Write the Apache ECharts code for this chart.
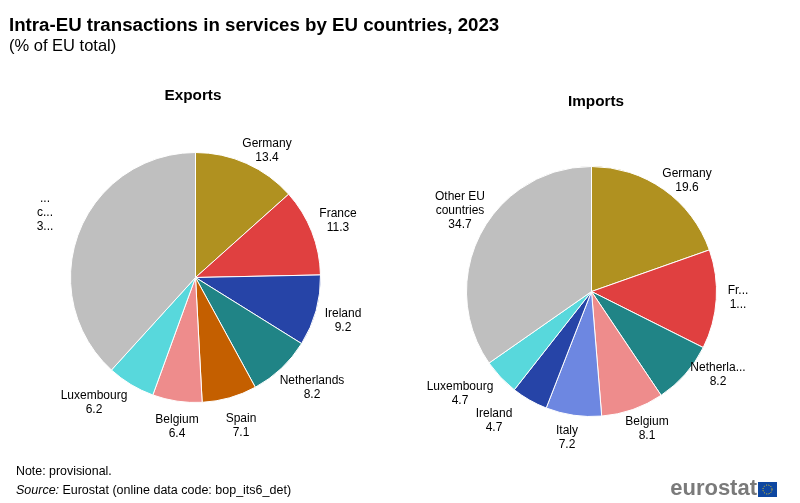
<!DOCTYPE html>
<html>
<head>
<meta charset="utf-8">
<style>html,body{margin:0;padding:0;background:#fff}#main{width:800px;height:503px}</style>
<script src="https://cdn.jsdelivr.net/npm/echarts@6/dist/echarts.min.js"></script>
</head>
<body>
<div id="main"></div>
<script>
var exportNames = ['Germany', 'France', 'Ireland', 'Netherlands', 'Spain', 'Belgium', 'Luxembourg', 'Other EU\ncountries']
var exportValues = [13.4, 11.3, 9.2, 8.2, 7.1, 6.4, 6.2, 38.3]
var exportColors = ['#b09120', '#e04040', '#2644a7', '#208486', '#c45f00', '#ee8c8c', '#58d8dc', '#bfbfbf']
var importNames = ['Germany', 'France', 'Netherlands', 'Belgium', 'Italy', 'Ireland', 'Luxembourg', 'Other EU\ncountries']
var importValues = [19.6, 12.8, 8.2, 8.1, 7.2, 4.7, 4.7, 34.7]
var importColors = ['#b09120', '#e04040', '#208486', '#ee8c8c', '#6d87e1', '#2644a7', '#58d8dc', '#bfbfbf']

// label centres, placed by hand like in the original
var exportLabelPos = [[267, 151], [338, 221], [343, 321], [312, 388], [241, 426], [177, 427], [94, 403], [45, 213]]
var importLabelPos = [[687, 181], [738, 298], [718, 375], [647, 429], [567, 438], [494, 421], [460, 394], [460, 211]]

var font = 'Arial, "Liberation Sans", sans-serif'
var myChart = echarts.init(document.getElementById('main'))

function makeData (names, values, colors) {
  return names.map(function (n, i) {
    return { name: n, value: values[i], itemStyle: { color: colors[i] } }
  })
}

function makePie (data, labelPos, cx, cy, r) {
  return {
    type: 'pie',
    center: [cx, cy],
    radius: [0, r],
    startAngle: 90,
    clockwise: true,
    animation: false,
    data: data,
    itemStyle: { borderColor: '#fff', borderWidth: 1 },
    label: {
      show: true,
      position: 'outside',
      formatter: function (p) { return p.name + '\n' + p.value.toFixed(1) },
      color: '#000',
      fontFamily: font,
      fontSize: 12,
      lineHeight: 14,
      align: 'center'
    },
    labelLine: { show: false },
    labelLayout: function (p) {
      return { x: labelPos[p.dataIndex][0], y: labelPos[p.dataIndex][1], align: 'center', verticalAlign: 'middle' }
    },
    emphasis: { disabled: true }
  }
}

var option = {
  backgroundColor: '#fff',
  title: [
    { text: 'Intra-EU transactions in services by EU countries, 2023', left: 4, top: 11, textStyle: { fontFamily: font, fontSize: 18.7, fontWeight: 'bold', color: '#000' } },
    { text: '(% of EU total)', left: 4, top: 33, textStyle: { fontFamily: font, fontSize: 16.5, fontWeight: 'normal', color: '#000' } },
    { text: 'Exports', left: 188, top: 83, textAlign: 'center', textStyle: { fontFamily: font, fontSize: 15.3, fontWeight: 'bold', color: '#000' } },
    { text: 'Imports', left: 591, top: 89, textAlign: 'center', textStyle: { fontFamily: font, fontSize: 15.3, fontWeight: 'bold', color: '#000' } }
  ],
  graphic: [
    { type: 'text', x: 16, y: 466, style: { text: 'Note: provisional.', fontFamily: font, fontSize: 12.4, fill: '#000' } },
    { type: 'text', x: 16, y: 484, style: { rich: { i: { fontStyle: 'italic', fontFamily: font, fontSize: 12.5, fill: '#000' }, n: { fontFamily: font, fontSize: 12.5, fill: '#000' } }, text: '{i|Source:} {n|Eurostat (online data code: bop_its6_det)}' } },
    { type: 'text', x: 757, y: 478, style: { text: 'eurostat', align: 'right', fontFamily: font, fontSize: 22, fontWeight: 'bold', fill: '#7a7a7a' } },
    { type: 'rect', shape: { x: 758, y: 482, width: 19, height: 15 }, style: { fill: '#0e47a1' } },
    { type: 'circle', shape: { cx: 767.5, cy: 489.5, r: 4.5 }, style: { fill: 'none', stroke: '#ffd617', lineWidth: 1, lineDash: [1, 1.4] } }
  ],
  series: [
    makePie(makeData(exportNames, exportValues, exportColors), exportLabelPos, 195.5, 277.5, 125),
    makePie(makeData(importNames, importValues, importColors), importLabelPos, 591.5, 291.5, 125)
  ]
}
myChart.setOption(option)
</script>
</body>
</html>
